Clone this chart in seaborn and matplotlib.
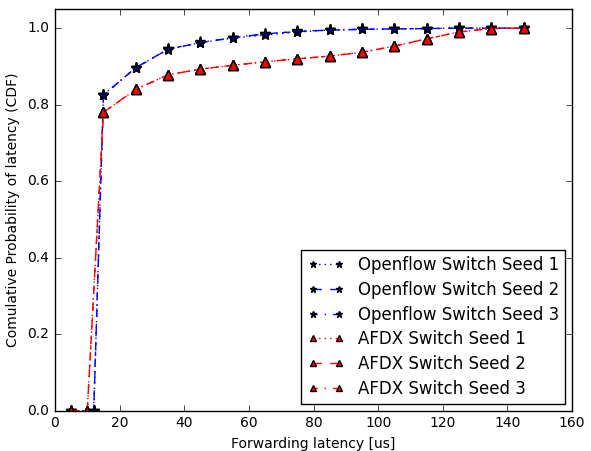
import numpy as np
import pandas as pd
import matplotlib
matplotlib.use("Agg")
import matplotlib.pyplot as plt
import seaborn as sns

plt.style.use("classic")

latency = [5, 12, 15, 25, 35, 45, 55, 65, 75, 85, 95, 105, 115, 125, 135, 145]
afdx_latency = [5, 10, 15, 25, 35, 45, 55, 65, 75, 85, 95, 105, 115, 125, 135, 145]

openflow_seed1 = [0.0, 0.0, 0.826, 0.897, 0.944, 0.962, 0.974, 0.982, 0.990, 0.995, 0.997, 0.998, 0.999, 1.0, 1.0, 1.0]
openflow_seed2 = [0.0, 0.0, 0.825, 0.897, 0.945, 0.962, 0.975, 0.985, 0.991, 0.995, 0.997, 0.998, 0.999, 1.0, 1.0, 1.0]
openflow_seed3 = [0.0, 0.0, 0.825, 0.896, 0.945, 0.963, 0.975, 0.985, 0.992, 0.995, 0.997, 0.998, 0.999, 1.0, 1.0, 1.0]

afdx_seed1 = [0.0, 0.0, 0.780, 0.840, 0.878, 0.893, 0.903, 0.912, 0.920, 0.927, 0.937, 0.953, 0.972, 0.990, 0.999, 1.0]
afdx_seed2 = [0.0, 0.0, 0.780, 0.840, 0.878, 0.893, 0.903, 0.912, 0.920, 0.927, 0.937, 0.953, 0.972, 0.990, 0.999, 1.0]
afdx_seed3 = [0.0, 0.0, 0.780, 0.840, 0.878, 0.893, 0.903, 0.912, 0.920, 0.927, 0.937, 0.953, 0.972, 0.990, 0.999, 1.0]

series = [
    ("Openflow Switch Seed 1", latency, openflow_seed1, "blue", ":", "*", "navy", 8),
    ("Openflow Switch Seed 2", latency, openflow_seed2, "blue", "--", "*", "navy", 8),
    ("Openflow Switch Seed 3", latency, openflow_seed3, "blue", "-.", "*", "navy", 8),
    ("AFDX Switch Seed 1", afdx_latency, afdx_seed1, "red", ":", "^", "red", 7),
    ("AFDX Switch Seed 2", afdx_latency, afdx_seed2, "red", "--", "^", "red", 7),
    ("AFDX Switch Seed 3", afdx_latency, afdx_seed3, "red", "-.", "^", "red", 7),
]

fig = plt.figure(figsize=(5.91, 4.51), dpi=100, facecolor="white")
ax = fig.add_axes([0.093, 0.089, 0.875, 0.891])
ax.set_facecolor("white")

for label, xs, ys, color, ls, marker, mfc, ms in series:
    df = pd.DataFrame({"x": xs, "y": ys})
    sns.lineplot(data=df, x="x", y="y", ax=ax, color=color, linestyle=ls,
                 marker=marker, markerfacecolor=mfc, markeredgecolor="black",
                 markersize=ms, markeredgewidth=1, linewidth=1, label=label)

ax.set_xlim(0, 160)
ax.set_ylim(0, 1.05)
ax.set_xticks(np.arange(0, 161, 20))
ax.set_yticks(np.arange(0, 1.01, 0.2))
ax.set_xlabel("Forwarding latency [us]", fontsize=10)
ax.set_ylabel("Comulative Probability of latency (CDF)", fontsize=10)
ax.tick_params(labelsize=10)

ax.legend(loc="lower right", fontsize=12, numpoints=2, frameon=True,
          fancybox=False, handlelength=2.2, markerscale=0.6,
          labelspacing=0.4, borderaxespad=0.4)

fig.savefig("out.png", dpi=100, facecolor="white")
